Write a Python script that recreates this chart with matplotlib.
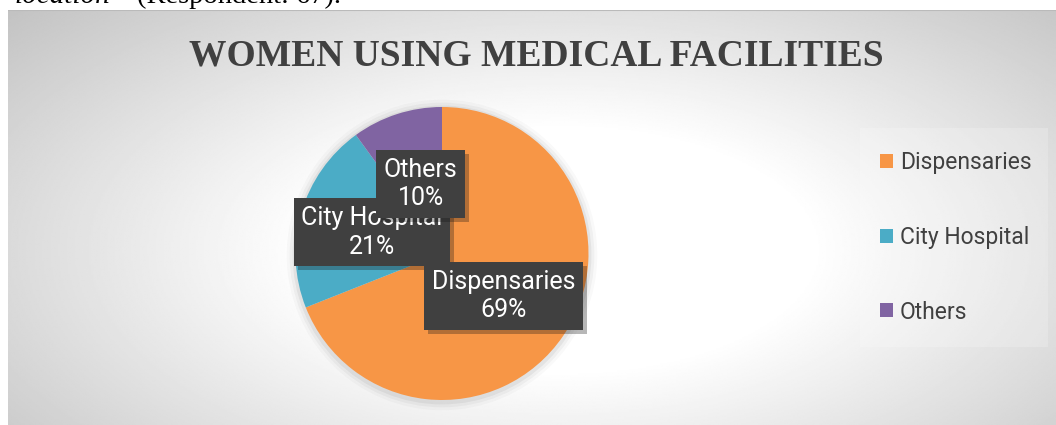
import numpy as np
import matplotlib
matplotlib.use("Agg")
import matplotlib.pyplot as plt
from matplotlib import patheffects as pe
from matplotlib.patches import Circle, Rectangle

# survey shares (respondents: 67)
categories = ["Dispensaries", "City Hospital", "Others"]
shares = [69, 21, 10]
colors = ["#F79646", "#4BACC6", "#8064A2"]
title = "WOMEN USING MEDICAL FACILITIES"

W, H = 1056, 425
fig = plt.figure(figsize=(W / 100, H / 100), dpi=100)


def fx(px):
    return px / W


def fy(py):
    return 1 - py / H


# end of the caption line above the chart
fig.text(fx(126), fy(3), "location\u201d", fontfamily="Liberation Serif", style="italic",
         fontsize=21, ha="right", va="baseline", zorder=-1)
fig.text(fx(137), fy(3), "(Respondent: 67).", fontfamily="Liberation Serif",
         fontsize=20.5, ha="left", va="baseline", zorder=-1)

# chart area with a radial grey gradient
bg = fig.add_axes([fx(8), 0, 1 - fx(8), fy(10)])
xx, yy = np.meshgrid(np.linspace(8, W, 600), np.linspace(10, H, 300))
d = np.hypot((xx - 560) / 560, (yy - 250) / 270)
shade = np.clip(1.0 - 0.27 * np.clip(d - 0.45, 0, None), 0, 1)
bg.imshow(shade, cmap="gray", vmin=0, vmax=1, extent=[8, W, H, 10],
          aspect="auto", interpolation="bilinear")
bg.axhline(10.5, color="#bababa", lw=1.5)
bg.set_xlim(8, W)
bg.set_ylim(H, 10)
bg.axis("off")

fig.text(fx(536), fy(55.5), title, fontfamily="Liberation Serif", fontweight="bold",
         fontsize=27, color="#404040", ha="center", va="center")

# pie
cx, cy, r = 442, 253.5, 146.5
pax = fig.add_axes([fx(cx - r), fy(cy + r), 2 * r / W, 2 * r / H])
for k, a in zip([1.06, 1.04, 1.02], [0.025, 0.035, 0.05]):
    pax.add_patch(Circle((0, -0.01), k, color="black", alpha=a, lw=0, clip_on=False, zorder=0))
wedges, _ = pax.pie(shares, colors=colors, startangle=90, counterclock=False,
                    radius=1, wedgeprops=dict(linewidth=0, zorder=1))
pax.set_xlim(-1, 1)
pax.set_ylim(-1, 1)

# data labels
label_pos = [(0.42, -0.29), (-0.48, 0.145), (-0.145, 0.475)]
label_z = [6, 4, 5]
for name, val, (x, y), z in zip(categories, shares, label_pos, label_z):
    t = pax.text(x, y, f"{name}\n{val}%", ha="center", va="center", color="white",
                 fontsize=18, fontfamily="Roboto", linespacing=1.25, zorder=z,
                 bbox=dict(boxstyle="square,pad=0.3", facecolor="#404040", linewidth=0))
    t.get_bbox_patch().set_path_effects([pe.SimplePatchShadow(offset=(3, -3), alpha=0.3),
                                         pe.Normal()])

# legend
fig.patches.append(Rectangle((fx(860), fy(347)), 188 / W, 219 / H, transform=fig.transFigure,
                             facecolor="white", alpha=0.2, lw=0, zorder=1))
leg = fig.legend(wedges, categories, loc="center left", bbox_to_anchor=(fx(880), fy(237.5)),
                 frameon=False, prop=dict(family="Roboto", size=16.5), labelspacing=2.25,
                 handlelength=0.56, handleheight=0.56, handletextpad=0.3, borderpad=0,
                 borderaxespad=0)
for t in leg.get_texts():
    t.set_color("#404040")

fig.savefig("out.png", dpi=100)
